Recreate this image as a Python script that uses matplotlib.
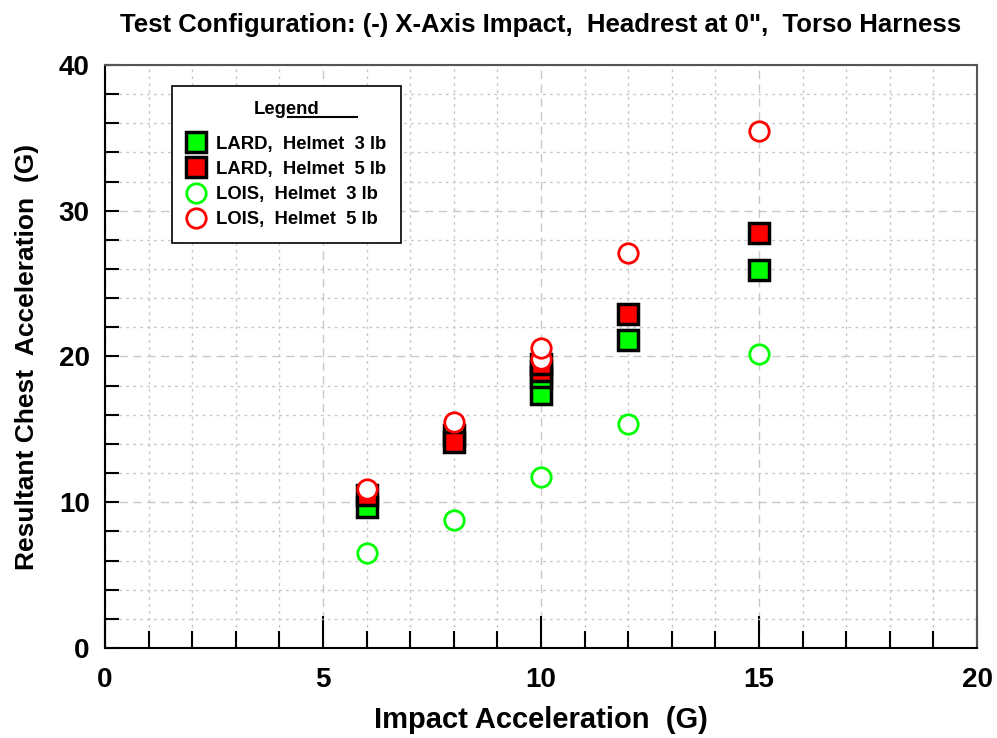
import numpy as np
from matplotlib import pyplot as plt
from matplotlib.ticker import MultipleLocator
from matplotlib.lines import Line2D

plt.rcParams['font.family'] = ['Liberation Sans', 'DejaVu Sans']
plt.rcParams['font.weight'] = 'bold'

# impact acceleration (G) and resultant chest acceleration (G)
lard_3_x = [6, 8, 10, 10, 12, 15]
lard_3_y = [9.7, 14.6, 17.4, 18.6, 21.1, 25.9]
lard_5_x = [6, 8, 10, 10, 12, 15]
lard_5_y = [10.5, 14.1, 19.0, 19.5, 22.9, 28.5]
lois_3_x = [6, 8, 10, 12, 15]
lois_3_y = [6.5, 8.8, 11.7, 15.4, 20.2]
lois_5_x = [6, 8, 10, 10, 12, 15]
lois_5_y = [10.9, 15.5, 19.8, 20.6, 27.1, 35.5]

labels = ['LARD,  Helmet  3 lb', 'LARD,  Helmet  5 lb',
          'LOIS,  Helmet  3 lb', 'LOIS,  Helmet  5 lb']

fig = plt.figure(figsize=(9.97, 7.38), dpi=100)
ax = fig.add_axes([0.1053, 0.122, 0.8747, 0.790])

ax.plot(lard_3_x, lard_3_y, 's', ms=14, mfc='#00ff00', mec='black', mew=2.5,
        ls='none', label=labels[0], zorder=3)
ax.plot(lard_5_x, lard_5_y, 's', ms=14, mfc='red', mec='black', mew=2.5,
        ls='none', label=labels[1], zorder=3)
ax.plot(lois_3_x, lois_3_y, 'o', ms=14, mfc='white', mec='#00ff00', mew=2,
        ls='none', label=labels[2], zorder=4)
ax.plot(lois_5_x, lois_5_y, 'o', ms=14, mfc='white', mec='red', mew=2,
        ls='none', label=labels[3], zorder=4)

ax.set_xlim(0, 20)
ax.set_ylim(0, 40)
ax.xaxis.set_major_locator(MultipleLocator(5))
ax.xaxis.set_minor_locator(MultipleLocator(1))
ax.yaxis.set_major_locator(MultipleLocator(10))
ax.yaxis.set_minor_locator(MultipleLocator(2))

ax.grid(which='major', color='#c8c8c8', ls=(0, (6, 4)), lw=1)
ax.grid(which='minor', color='#c8c8c8', ls=(0, (2, 3)), lw=1)
ax.set_axisbelow(True)

ax.tick_params(which='both', direction='in', top=False, right=False,
               labelsize=20, color='black')
ax.tick_params(axis='x', which='major', length=23, width=1.5, pad=14)
ax.tick_params(axis='x', which='minor', length=12, width=1.5)
ax.tick_params(axis='y', which='major', length=10, width=1.5, pad=11)
ax.tick_params(axis='y', which='minor', length=10, width=1.5)
for t in ax.get_xticklabels() + ax.get_yticklabels():
    t.set_fontweight('bold')

for side in ['left', 'bottom']:
    ax.spines[side].set_linewidth(1.5)
for side in ['top', 'right']:
    ax.spines[side].set_color('#555555')
    ax.spines[side].set_linewidth(1.5)

ax.set_xlabel('Impact Acceleration  (G)', fontsize=21, fontweight='bold', labelpad=9)
ax.set_ylabel('Resultant Chest  Acceleration  (G)', fontsize=19, fontweight='bold', labelpad=14)
ax.set_title('Test Configuration: (-) X-Axis Impact,  Headrest at 0",  Torso Harness',
             fontsize=18.5, fontweight='bold', pad=24)

leg = ax.legend(loc='upper left', bbox_to_anchor=(0.066, 0.979), title='Legend',
                fontsize=13.3, title_fontproperties={'weight': 'bold', 'size': 13.3},
                frameon=True, fancybox=False, edgecolor='black', framealpha=1,
                handletextpad=0.6, labelspacing=0.45, borderpad=0.8,
                handlelength=1.0, markerscale=1.0)
leg.get_frame().set_linewidth(1.2)
leg._legend_box.sep = 12.5  # wider gap between title and entries
for t in leg.get_texts():
    t.set_fontweight('bold')

# underline under the legend title
fig.add_artist(Line2D([288 / 997, 357 / 997], [1 - 117 / 738, 1 - 117 / 738],
                      color='black', lw=1.5))

fig.savefig('out.png', dpi=100)
